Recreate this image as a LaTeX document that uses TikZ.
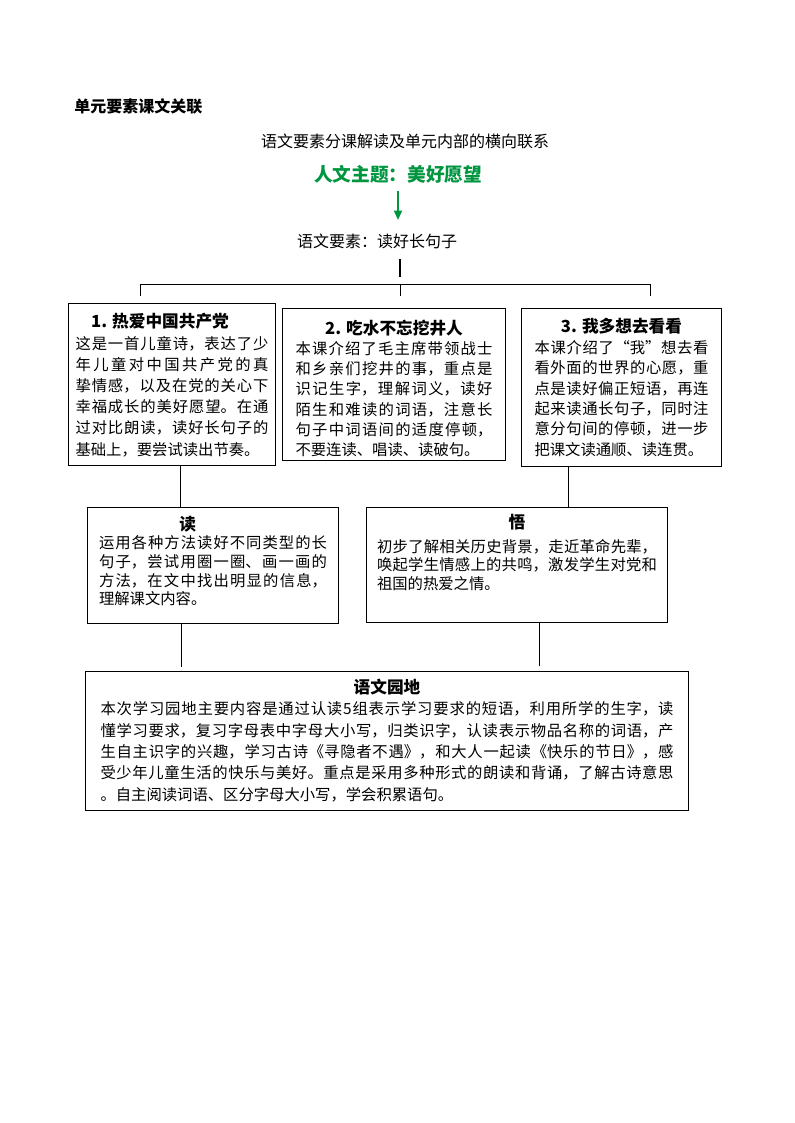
\documentclass[tikz,border=0pt]{standalone}
\usepackage{fontspec}
\setmainfont{Noto Sans CJK SC}
\usetikzlibrary{arrows.meta}

\XeTeXlinebreaklocale "zh"
\XeTeXlinebreakskip=0pt plus 3pt

\definecolor{themegreen}{RGB}{0,150,64}

\newcommand\cardhead[2][0pt]{\makebox[\linewidth]{\fontsize{12.5}{14}\selectfont\bfseries #2\hspace*{#1}}\par}
\newcommand\cardbody[5]{\parbox[c][#1][t]{#2}{\fontsize{11.5}{#4}\selectfont\lineskiplimit=-\maxdimen\vspace*{#3}#5}}

\tikzset{
    card/.style={draw, line width=0.8pt, anchor=north west, inner ysep=0pt, inner xsep=#1},
    caption/.style={inner sep=0pt, font=\fontsize{12}{14}\selectfont},
    wire/.style={line width=0.6pt},
    stembar/.style={line width=2.2pt},
    greenarrow/.style={themegreen, line width=1.3pt, -{Triangle[length=7pt,width=6pt]}}
    }

\begin{document}
\begin{tikzpicture}[x=0.75pt, y=-0.75pt]
    \path[use as bounding box, fill=white] (0,0) rectangle (794,1123);
    % Heading
    \node[caption, anchor=west, font=\fontsize{12}{14}\selectfont\bfseries] (unit) at (74,106) {单元要素课文关联};
    \node[caption] (sub) at (405,141) {语文要素分课解读及单元内部的横向联系};
    \node[caption, font=\fontsize{14}{16}\selectfont\bfseries, text=themegreen] (theme) at (398,174) {人文主题：美好愿望};
    \node[caption] (goal) at (377,241) {语文要素：读好长句子};
    \draw[greenarrow, shorten <=6pt, shorten >=10pt] (theme.south) -- (theme.south |- goal.north);

    % The three lessons
    \node[card=5.25pt] (b1) at (68,303) {\cardbody{121.5pt}{144.75pt}{7.5pt}{15.9pt}{%
        \cardhead[18pt]{1. 热爱中国共产党}%
        这是一首儿童诗，表达了少\linebreak
        年儿童对中国共产党的真\linebreak
        挚情感，以及在党的关心下\linebreak
        幸福成长的美好愿望。在通\linebreak
        过对比朗读，读好长句子的\linebreak
        基础上，要尝试读出节奏。}};
    \node[card=9.75pt] (b2) at (282,308) {\cardbody{114pt}{147.75pt}{8.25pt}{15.2pt}{%
        \cardhead{2. 吃水不忘挖井人}%
        本课介绍了毛主席带领战士\linebreak
        和乡亲们挖井的事，重点是\linebreak
        识记生字，理解词义，读好\linebreak
        陌生和难读的词语，注意长\linebreak
        句子中词语间的适度停顿，\linebreak
        不要连读、唱读、读破句。}};
    \node[card=9.75pt] (b3) at (521,308) {\cardbody{118.5pt}{130.5pt}{7.5pt}{15.3pt}{%
        \cardhead{3. 我多想去看看}%
        本课介绍了“我”想去看\linebreak
        看外面的世界的心愿，重\linebreak
        点是读好偏正短语，再连\linebreak
        起来读通长句子，同时注\linebreak
        意分句间的停顿，进一步\linebreak
        把课文读通顺、读连贯。}};

    % Reading and feeling
    \node[card=8.6pt] (bd) at (87,507) {\cardbody{87pt}{171pt}{6.25pt}{14pt}{%
        \cardhead[38pt]{读}%
        运用各种方法读好不同类型的长\linebreak
        句子，尝试用圈一圈、画一画的\linebreak
        方法，在文中找出明显的信息，\linebreak
        理解课文内容。}};
    \node[card=7.9pt] (bw) at (366,507) {\cardbody{86.25pt}{210pt}{5.25pt}{14pt}{%
        \cardhead{悟}\vspace{3.5pt}%
        初步了解相关历史背景，走近革命先辈，\linebreak
        唤起学生情感上的共鸣，激发学生对党和\linebreak
        祖国的热爱之情。}};

    % Garden
    \node[card=11.25pt] (bg) at (85,671) {\cardbody{104.25pt}{429.75pt}{5.5pt}{16pt}{%
        \cardhead{语文园地}%
        本次学习园地主要内容是通过认读5组表示学习要求的短语，利用所学的生字，读\linebreak
        懂学习要求，复习字母表中字母大小写，归类识字，认读表示物品名称的词语，产\linebreak
        生自主识字的兴趣，学习古诗《寻隐者不遇》，和大人一起读《快乐的节日》，感\linebreak
        受少年儿童生活的快乐与美好。重点是采用多种形式的朗读和背诵，了解古诗意思\linebreak
        。自主阅读词语、区分字母大小写，学会积累语句。}};

    % Links
    \coordinate (stem) at (400,259);
    \coordinate (split) at (400,284);
    \coordinate (j1) at (140,284);
    \coordinate (j3) at (650,284);
    \coordinate (k1) at (180,0);
    \coordinate (k2) at (568,0);
    \coordinate (k3) at (181,0);
    \coordinate (k4) at (539,0);
    \draw[stembar, shorten >=5.25pt] (stem) -- (split);
    \draw[wire] (j1) -- (j3);
    \draw[wire, shorten >=5.25pt] (j1) -- (j1 |- b1.north);
    \draw[wire, shorten >=9pt] (split) -- (split |- b2.north);
    \draw[wire, shorten >=9pt] (j3) -- (j3 |- b3.north);
    \draw[wire] (b1.south -| k1) -- (bd.north -| k1);
    \draw[wire] (b3.south -| k2) -- (bw.north -| k2);
    \draw[wire, shorten >=3pt] (bd.south -| k3) -- (bg.north -| k3);
    \draw[wire, shorten >=4pt] (bw.south -| k4) -- (bg.north -| k4);
\end{tikzpicture}
\end{document}
